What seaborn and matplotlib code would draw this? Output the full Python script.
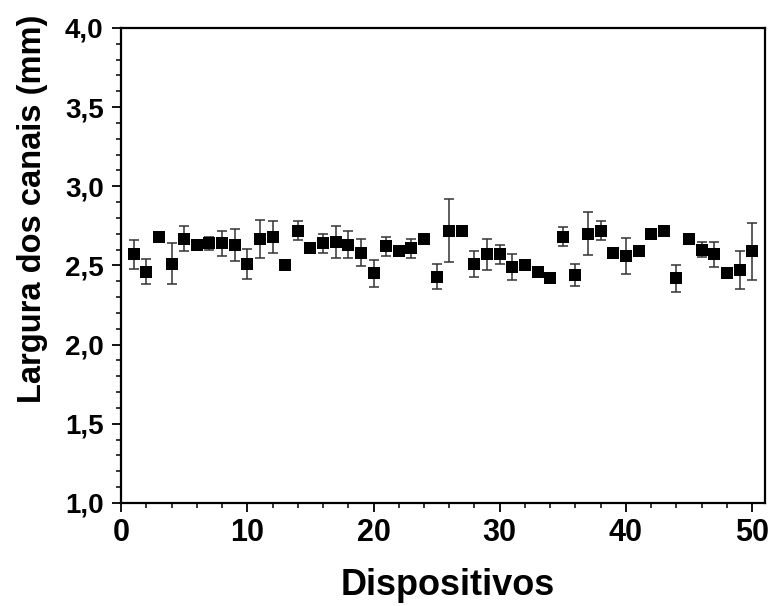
import matplotlib
matplotlib.use('Agg')
import matplotlib.pyplot as plt
from matplotlib.ticker import MultipleLocator
import numpy as np
import pandas as pd
import seaborn as sns

# dados: largura dos canais por dispositivo (mm)
dispositivos = list(range(1, 51))
largura = [2.57, 2.46, 2.68, 2.51, 2.67, 2.63, 2.64, 2.64, 2.63, 2.51,
           2.67, 2.68, 2.50, 2.72, 2.61, 2.64, 2.65, 2.63, 2.58, 2.45,
           2.62, 2.59, 2.61, 2.67, 2.43, 2.72, 2.72, 2.51, 2.57, 2.57,
           2.49, 2.50, 2.46, 2.42, 2.68, 2.44, 2.70, 2.72, 2.58, 2.56,
           2.59, 2.70, 2.72, 2.42, 2.67, 2.60, 2.57, 2.45, 2.47, 2.59]
erro = [0.09, 0.08, 0.01, 0.13, 0.08, 0.03, 0.04, 0.08, 0.10, 0.095,
        0.12, 0.10, 0.02, 0.06, 0.01, 0.06, 0.10, 0.085, 0.085, 0.086,
        0.06, 0.02, 0.06, 0.02, 0.08, 0.20, 0.02, 0.08, 0.10, 0.06,
        0.08, 0.02, 0.02, 0.01, 0.06, 0.07, 0.135, 0.06, 0.02, 0.115,
        0.01, 0.02, 0.01, 0.085, 0.01, 0.045, 0.08, 0.01, 0.12, 0.18]
yticks = [1.0, 1.5, 2.0, 2.5, 3.0, 3.5, 4.0]

df = pd.DataFrame({'Dispositivo': dispositivos, 'Largura': largura, 'Erro': erro})

sns.set_style('ticks')
plt.rcParams['font.family'] = ['Liberation Sans', 'DejaVu Sans']
plt.rcParams['font.weight'] = 'bold'
plt.rcParams['text.color'] = 'black'
plt.rcParams['axes.labelcolor'] = 'black'
plt.rcParams['xtick.color'] = 'black'
plt.rcParams['ytick.color'] = 'black'

fig = plt.figure(figsize=(7.71, 6.06), dpi=100)
ax = fig.add_axes([0.157, 0.170, 0.835, 0.784])

# barras de erro
ax.errorbar(df['Dispositivo'], df['Largura'], yerr=df['Erro'], fmt='none',
            ecolor='#333333', elinewidth=1.1, capsize=3.3, capthick=1.1, zorder=2)
# pontos
sns.scatterplot(data=df, x='Dispositivo', y='Largura', marker='s', s=70,
                color='black', edgecolor='black', linewidth=0, ax=ax, zorder=3)

ax.set_xlim(0, 51)
ax.set_ylim(1.0, 4.0)
ax.xaxis.set_major_locator(MultipleLocator(10))
ax.xaxis.set_minor_locator(MultipleLocator(2))
ax.set_yticks(yticks)
ax.set_yticklabels([('%.1f' % v).replace('.', ',') for v in yticks])
ax.yaxis.set_minor_locator(MultipleLocator(0.1))

for s in ax.spines.values():
    s.set_linewidth(1.6)
    s.set_color('black')
ax.tick_params(which='major', direction='out', length=6.5, width=1.3,
               colors='black', labelcolor='black')
ax.tick_params(which='minor', direction='out', length=3.5, width=1.1, colors='black')
ax.tick_params(axis='y', which='major', labelsize=20, pad=6)
ax.tick_params(axis='x', which='major', labelsize=22, pad=4)
for lab in ax.get_xticklabels() + ax.get_yticklabels():
    lab.set_fontweight('bold')
    lab.set_color('black')

ax.set_xlabel('Dispositivos', fontsize=26, fontweight='bold', color='black')
ax.set_ylabel('Largura dos canais (mm)', fontsize=23.5, fontweight='bold', color='black')
ax.xaxis.set_label_coords(0.507, -0.137)
ax.yaxis.set_label_coords(-0.113, 0.62)

fig.savefig('out.png', dpi=100)
